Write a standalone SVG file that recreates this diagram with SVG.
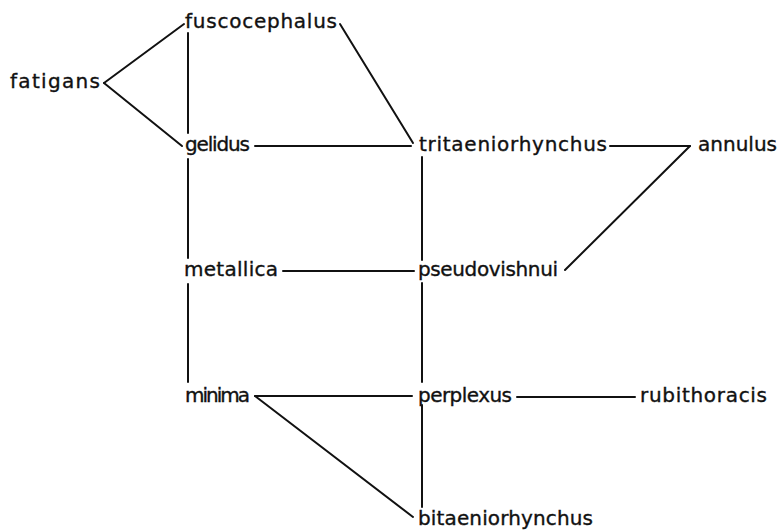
<svg xmlns="http://www.w3.org/2000/svg" width="778" height="530" viewBox="0 0 778 530">
<style>
.lbl{font-family:"DejaVu Sans","Liberation Sans",sans-serif;font-size:20px;fill:#111;stroke:#111;stroke-width:0.35;}
.edge{stroke:#111;stroke-width:2;fill:none;stroke-linecap:round;}
</style>
<rect width="778" height="530" fill="#fff"/>
<g id="connectors">
<line class="edge" x1="104" y1="83" x2="184" y2="24"/>
<line class="edge" x1="104" y1="83" x2="182" y2="146"/>
<line class="edge" x1="188" y1="33" x2="188" y2="133"/>
<line class="edge" x1="188" y1="159" x2="188" y2="258"/>
<line class="edge" x1="188" y1="284" x2="188" y2="382"/>
<line class="edge" x1="340" y1="24" x2="413" y2="143"/>
<line class="edge" x1="255" y1="146" x2="411" y2="146"/>
<line class="edge" x1="610" y1="146" x2="690" y2="146"/>
<line class="edge" x1="690" y1="146" x2="565" y2="270"/>
<line class="edge" x1="422" y1="157" x2="422" y2="260"/>
<line class="edge" x1="422" y1="283" x2="422" y2="382"/>
<line class="edge" x1="422" y1="405" x2="422" y2="507"/>
<line class="edge" x1="283" y1="271" x2="414" y2="271"/>
<line class="edge" x1="255" y1="396" x2="412" y2="396"/>
<line class="edge" x1="255" y1="396" x2="413" y2="517"/>
<line class="edge" x1="517" y1="397" x2="635" y2="397"/>
</g>
<g id="fatigans"><text class="lbl" x="10" y="88" textLength="90" lengthAdjust="spacing">fatigans</text></g>
<g id="fuscocephalus"><text class="lbl" x="185" y="28" textLength="152" lengthAdjust="spacing">fuscocephalus</text></g>
<g id="gelidus"><text class="lbl" x="185" y="151" textLength="65" lengthAdjust="spacing">gelidus</text></g>
<g id="tritaeniorhynchus"><text class="lbl" x="419" y="151" textLength="188" lengthAdjust="spacing">tritaeniorhynchus</text></g>
<g id="annulus"><text class="lbl" x="698" y="151" textLength="79" lengthAdjust="spacing">annulus</text></g>
<g id="metallica"><text class="lbl" x="184" y="276" textLength="94" lengthAdjust="spacing">metallica</text></g>
<g id="pseudovishnui"><text class="lbl" x="418" y="276" textLength="140" lengthAdjust="spacing">pseudovishnui</text></g>
<g id="minima"><text class="lbl" x="185" y="402" textLength="65" lengthAdjust="spacing">minima</text></g>
<g id="perplexus"><text class="lbl" x="418" y="402" textLength="94" lengthAdjust="spacing">perplexus</text></g>
<g id="rubithoracis"><text class="lbl" x="640" y="402" textLength="127" lengthAdjust="spacing">rubithoracis</text></g>
<g id="bitaeniorhynchus"><text class="lbl" x="418" y="525" textLength="175" lengthAdjust="spacing">bitaeniorhynchus</text></g>
</svg>
